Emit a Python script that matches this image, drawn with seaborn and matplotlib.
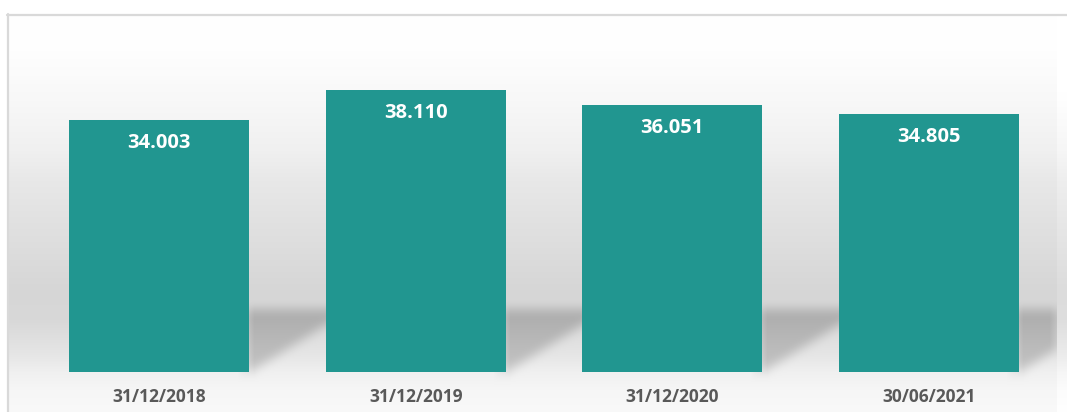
import numpy as np
import matplotlib
matplotlib.use("Agg")
import matplotlib.pyplot as plt
import seaborn as sns
import pandas as pd

# ---- data ----
dates = ["31/12/2018", "31/12/2019", "31/12/2020", "30/06/2021"]
values = [34003, 38110, 36051, 34805]
labels = [f"{v:,}".replace(",", ".") for v in values]

TEAL = "#219690"
W, H = 1067, 412

sns.set_theme(style="white")
plt.rcParams['font.family'] = ['Open Sans', 'DejaVu Sans']

fig = plt.figure(figsize=(W / 100, H / 100), dpi=100)
fig.patch.set_facecolor("white")

# background axes (full figure, pixel coordinates)
bg = fig.add_axes([0, 0, 1, 1], zorder=0)
bg.set_axis_off()

# main axes
ax_left, ax_right, ax_bottom, ax_top = 31, 1057, 372, 38.5
ax = fig.add_axes([ax_left / W, (H - ax_bottom) / H,
                   (ax_right - ax_left) / W, (ax_bottom - ax_top) / H], zorder=2)
ax.set_facecolor("none")

df = pd.DataFrame({"date": dates, "value": values})
sns.barplot(data=df, x="date", y="value", color=TEAL, saturation=1,
            width=0.70, linewidth=0, edgecolor="none", ax=ax)
ax.set_ylim(0, 45000)
ax.set_xlim(-0.5, len(dates) - 0.5)
ax.set_xlabel("")
ax.set_ylabel("")
ax.set_yticks([])
for s in ax.spines.values():
    s.set_visible(False)
ax.tick_params(axis="x", length=0, pad=11.5, labelsize=12.5, labelcolor="#595959")
for t in ax.get_xticklabels():
    t.set_fontweight("bold")

for i, (v, lab) in enumerate(zip(values, labels)):
    ax.annotate(lab, (i, v), xytext=(0, -23), textcoords="offset pixels",
                ha="center", va="center", color="white", fontsize=14.5,
                fontweight="bold")

# ---- background gradient with floor shadows ----
fig.canvas.draw()
ys = np.arange(H)
stops_y = [0, 15, 50, 100, 150, 180, 290, 320, 355, 372, 390, 412]
stops_v = [255, 255, 254, 248, 240, 232, 214, 216, 230, 240, 246, 249]
col = np.interp(ys, stops_y, stops_v).astype(float)
img = np.repeat(col[:, None], W, axis=1)

# right strip beyond back wall slightly lighter
img[:, ax_right:] = np.minimum(255, img[:, ax_right:] + 6)

# shadows computed from bar patches
mask = np.zeros((H, W))
xx = np.arange(W)[None, :].repeat(H, axis=0)
yy = np.arange(H)[:, None].repeat(W, axis=1)
bars = [p.get_window_extent() for p in ax.patches]
bars = sorted(bars, key=lambda b: b.x0)
for k, b in enumerate(bars):
    xr = b.x1
    xend = bars[k + 1].x0 + 20 if k + 1 < len(bars) else ax_right
    ybot = H - b.y0
    ylow = ybot - 0.62 * (xx - xr)
    m = (xx >= xr - 4) & (xx <= xend) & (yy >= 309) & (yy <= ylow)
    mask[m] = 1.0

def box_blur(a, r, axis):
    k = np.ones(2 * r + 1) / (2 * r + 1)
    return np.apply_along_axis(lambda v: np.convolve(np.pad(v, r, mode="edge"), k, mode="valid"), axis, a)

mask = box_blur(mask, 6, 0)
mask = box_blur(mask, 8, 1)
mask = box_blur(mask, 4, 0)
mask[:, ax_right:] = 0
img = img - mask * 40

# outside frame white
img[:14, :] = 255
img[:, :7] = 255
rgb = np.clip(np.dstack([img, img, img]) / 255.0, 0, 1)
bg.imshow(rgb, extent=(0, W, H, 0), aspect="auto", interpolation="bilinear")
bg.set_xlim(0, W)
bg.set_ylim(H, 0)
# frame
bg.plot([7, W], [14.5, 14.5], color="#d9d9d9", lw=1.6)
bg.plot([7.5, 7.5], [14, H], color="#d9d9d9", lw=1.6)

fig.savefig("out.png", dpi=100)
